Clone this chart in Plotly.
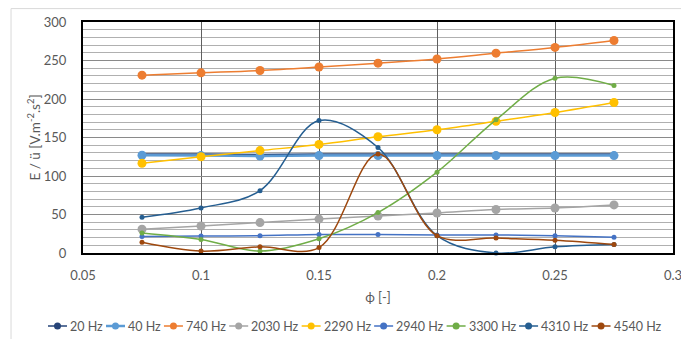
import plotly.graph_objects as go

phi = [0.075, 0.1, 0.125, 0.15, 0.175, 0.2, 0.225, 0.25, 0.275]

series_names = ["20 Hz", "40 Hz", "740 Hz", "2030 Hz", "2290 Hz",
                "2940 Hz", "3300 Hz", "4310 Hz", "4540 Hz"]

v20 = [128.5, 128.5, 128, 128.5, 128.5, 128.5, 128.5, 128.5, 128.5]
v40 = [127, 126.5, 126, 126.5, 126.5, 126.5, 126.5, 126.5, 126.5]
v740 = [231, 234, 237, 241.5, 246.5, 252, 259.5, 267, 276]
v2030 = [31, 35, 39.5, 44, 48, 52, 56.5, 58.5, 62.5]
v2290 = [116.5, 125, 133, 141, 151, 160, 171, 182.5, 195.5]
v2940 = [21.5, 22, 22.5, 24, 24, 23.5, 23.5, 22.5, 20.5]
v3300 = [26, 17.5, 2.5, 18.5, 52.5, 105, 173, 227, 217.5]
v4310 = [46.5, 58.5, 81, 172, 137, 22.5, 0, 8, 11]
v4540 = [14, 2.5, 8, 7, 128.5, 22.5, 19.5, 16.5, 11]

x_ticks = [0.05, 0.1, 0.15, 0.2, 0.25, 0.3]
x_ticktext = ["0.05", "0.1", "0.15", "0.2", "0.25", "0.3"]

values = [v20, v40, v740, v2030, v2290, v2940, v3300, v4310, v4540]
colors = ["#264478", "#5b9bd5", "#ed7d31", "#a5a5a5", "#ffc000",
          "#4472c4", "#70ad47", "#255e91", "#9e480e"]
msizes = [5, 9, 9, 9, 9, 5, 5, 5, 5]
lwidths = [1.5, 2.5, 1.5, 1.5, 1.5, 1.5, 1.5, 1.5, 1.5]

W, H = 681, 339
ML, MR, MT, MB = 83, 8, 22, 86
PW, PH = W - ML - MR, H - MT - MB

fig = go.Figure()
for name, vals, c, ms, lw in zip(series_names, values, colors, msizes, lwidths):
    fig.add_trace(go.Scatter(
        x=phi, y=vals, name=name, mode="lines+markers",
        line=dict(color=c, width=lw, shape="spline", smoothing=1),
        marker=dict(color=c, size=ms),
        cliponaxis=False, showlegend=False,
    ))

font_family = "Lato, 'Liberation Sans', sans-serif"
tick_col = "#595959"

# --- Excel-style compact legend (one row under the chart) ---
def px_x(p):
    return (p - ML) / PW

def px_y(p):
    return (MT + PH - p) / PH

char_em = {"H": 0.742, "z": 0.463, " ": 0.193}
leg_fs = 12.5

def text_w(s):
    return sum(char_em.get(ch, 0.58) for ch in s) * leg_fs

shapes = [dict(type="rect", xref="paper", yref="paper",
               x0=-0.122, x1=1.6, y0=-1.0, y1=1.058,
               line=dict(color="#d9d9d9", width=1), layer="below")]
annotations = []
leg_y = 326
cx = 57.5
for name, c, lw in zip(series_names, colors, lwidths):
    shapes.append(dict(type="line", xref="paper", yref="paper",
                       x0=px_x(cx - 9.5), x1=px_x(cx + 9.5),
                       y0=px_y(leg_y), y1=px_y(leg_y),
                       line=dict(color=c, width=lw)))
    shapes.append(dict(type="circle", xref="paper", yref="paper",
                       xsizemode="pixel", ysizemode="pixel",
                       xanchor=px_x(cx), yanchor=px_y(leg_y),
                       x0=-3.5, x1=3.5, y0=-3.5, y1=3.5,
                       fillcolor=c, line=dict(color=c, width=0)))
    annotations.append(dict(text=name, xref="paper", yref="paper",
                            x=px_x(cx + 10.5), y=px_y(leg_y),
                            xanchor="left", yanchor="middle", showarrow=False,
                            font=dict(size=leg_fs, color=tick_col)))
    cx += text_w(name) + 26

fig.update_layout(
    width=W, height=H,
    margin=dict(l=ML, r=MR, t=MT, b=MB, autoexpand=False),
    paper_bgcolor="white", plot_bgcolor="white",
    font=dict(family=font_family, size=12, color=tick_col),
    showlegend=False,
    shapes=shapes,
    annotations=annotations,
)

fig.update_xaxes(
    range=[0.05, 0.3], tickmode="array", tickvals=x_ticks, ticktext=x_ticktext,
    ticklabeloverflow="allow",
    showgrid=True, gridcolor="#606060", gridwidth=1,
    showline=True, linecolor="black", linewidth=2, mirror=True,
    ticks="outside", ticklen=9, tickcolor="rgba(0,0,0,0)",
    tickfont=dict(size=13, color=tick_col),
    title=dict(text="ϕ [-]", font=dict(size=13, color=tick_col), standoff=11),
    zeroline=False, automargin=False,
)
fig.update_yaxes(
    range=[0, 300], dtick=50, tick0=0,
    showgrid=True, gridcolor="#8a8a8a", gridwidth=1,
    minor=dict(dtick=10, showgrid=True, gridcolor="#b0b0b0", gridwidth=1),
    showline=True, linecolor="black", linewidth=2, mirror=True,
    ticks="outside", ticklen=12, tickcolor="rgba(0,0,0,0)",
    tickfont=dict(size=13, color=tick_col),
    title=dict(text="E / ü [V.m<sup>-2</sup>.s<sup>2</sup>]",
               font=dict(size=13.5, color=tick_col), standoff=0),
    zeroline=False, automargin=False,
)

fig.write_html("out.html")
